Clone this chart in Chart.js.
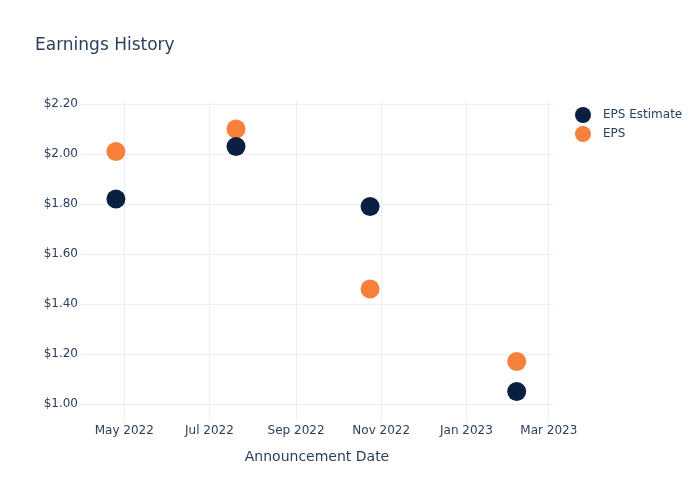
<!DOCTYPE html>
<html lang="en">
<head>
    <meta charset="UTF-8">
    <title>Earnings History</title>
    <script src="https://cdn.jsdelivr.net/npm/chart.js@4.4.1/dist/chart.umd.min.js"></script>
    <style>
        html, body { margin: 0; padding: 0; background: #fff; }
        #wrap { width: 700px; height: 500px; }
    </style>
</head>
<body>
    <div id="wrap"><canvas id="epsChart"></canvas></div>
    <script>
        // announcement dates and values
        const announceDates = ['2022-04-25', '2022-07-20', '2022-10-24', '2023-02-06'];
        const epsEstimate = [1.82, 2.03, 1.79, 1.05];
        const epsActual = [2.01, 2.10, 1.46, 1.17];

        const monthTickDates = ['2022-05-01', '2022-07-01', '2022-09-01', '2022-11-01', '2023-01-01', '2023-03-01'];
        const monthTickLabels = ['May 2022', 'Jul 2022', 'Sep 2022', 'Nov 2022', 'Jan 2023', 'Mar 2023'];
        const yTickValues = [1.0, 1.2, 1.4, 1.6, 1.8, 2.0, 2.2];

        const toDay = s => Date.parse(s + 'T00:00:00Z') / 86400000;
        const textColor = '#2a3f5f';
        const gridColor = '#ebf0f8';

        const titleAndLegend = {
            id: 'titleAndLegend',
            afterDraw(chart) {
                const c = chart.ctx;
                c.save();
                c.fillStyle = textColor;
                c.textBaseline = 'middle';
                c.font = '17px "DejaVu Sans"';
                c.fillText('Earnings History', 35, 46);
                c.font = '12px "DejaVu Sans"';
                chart.data.datasets.forEach((ds, i) => {
                    const y = 115 + i * 19;
                    c.beginPath();
                    c.arc(583, y, 8, 0, Math.PI * 2);
                    c.fillStyle = ds.backgroundColor;
                    c.fill();
                    c.fillStyle = textColor;
                    c.fillText(ds.label, 603, y);
                });
                c.restore();
            }
        };

        new Chart(document.getElementById('epsChart'), {
            type: 'scatter',
            data: {
                datasets: [{
                    label: 'EPS Estimate',
                    data: announceDates.map((d, i) => ({ x: toDay(d), y: epsEstimate[i] })),
                    backgroundColor: '#0b1f42',
                    borderWidth: 0,
                    pointRadius: 9.5,
                    pointHoverRadius: 9.5
                }, {
                    label: 'EPS',
                    data: announceDates.map((d, i) => ({ x: toDay(d), y: epsActual[i] })),
                    backgroundColor: '#f7803a',
                    borderWidth: 0,
                    pointRadius: 9.5,
                    pointHoverRadius: 9.5
                }]
            },
            options: {
                responsive: true,
                maintainAspectRatio: false,
                animation: false,
                layout: { padding: { top: 101, right: 147, left: 0, bottom: 0 } },
                plugins: {
                    legend: { display: false },
                    title: { display: false },
                    tooltip: { enabled: true }
                },
                scales: {
                    x: {
                        type: 'linear',
                        min: toDay('2022-03-31'),
                        max: toDay('2023-03-04'),
                        grid: { color: gridColor, drawTicks: false },
                        border: { display: false },
                        afterBuildTicks: scale => {
                            scale.ticks = monthTickDates.map(d => ({ value: toDay(d) }));
                        },
                        afterFit: scale => { scale.height = 78; },
                        ticks: {
                            color: textColor,
                            font: { family: 'DejaVu Sans', size: 12 },
                            padding: 2,
                            maxRotation: 0,
                            autoSkip: false,
                            callback: function(value) {
                                const idx = monthTickDates.findIndex(d => toDay(d) === value);
                                return idx >= 0 ? monthTickLabels[idx] : '';
                            }
                        },
                        title: {
                            display: true,
                            text: 'Announcement Date',
                            color: textColor,
                            font: { family: 'DejaVu Sans', size: 14 },
                            padding: { top: 0, bottom: 34 }
                        }
                    },
                    y: {
                        min: 0.928,
                        max: 2.212,
                        grid: { color: gridColor, drawTicks: false },
                        border: { display: false },
                        afterBuildTicks: scale => {
                            scale.ticks = yTickValues.map(v => ({ value: v }));
                        },
                        afterFit: scale => { scale.width = 81; },
                        ticks: {
                            color: textColor,
                            font: { family: 'DejaVu Sans', size: 12 },
                            padding: 3,
                            callback: value => '$' + value.toFixed(2)
                        }
                    }
                }
            },
            plugins: [titleAndLegend]
        });
    </script>
</body>
</html>
